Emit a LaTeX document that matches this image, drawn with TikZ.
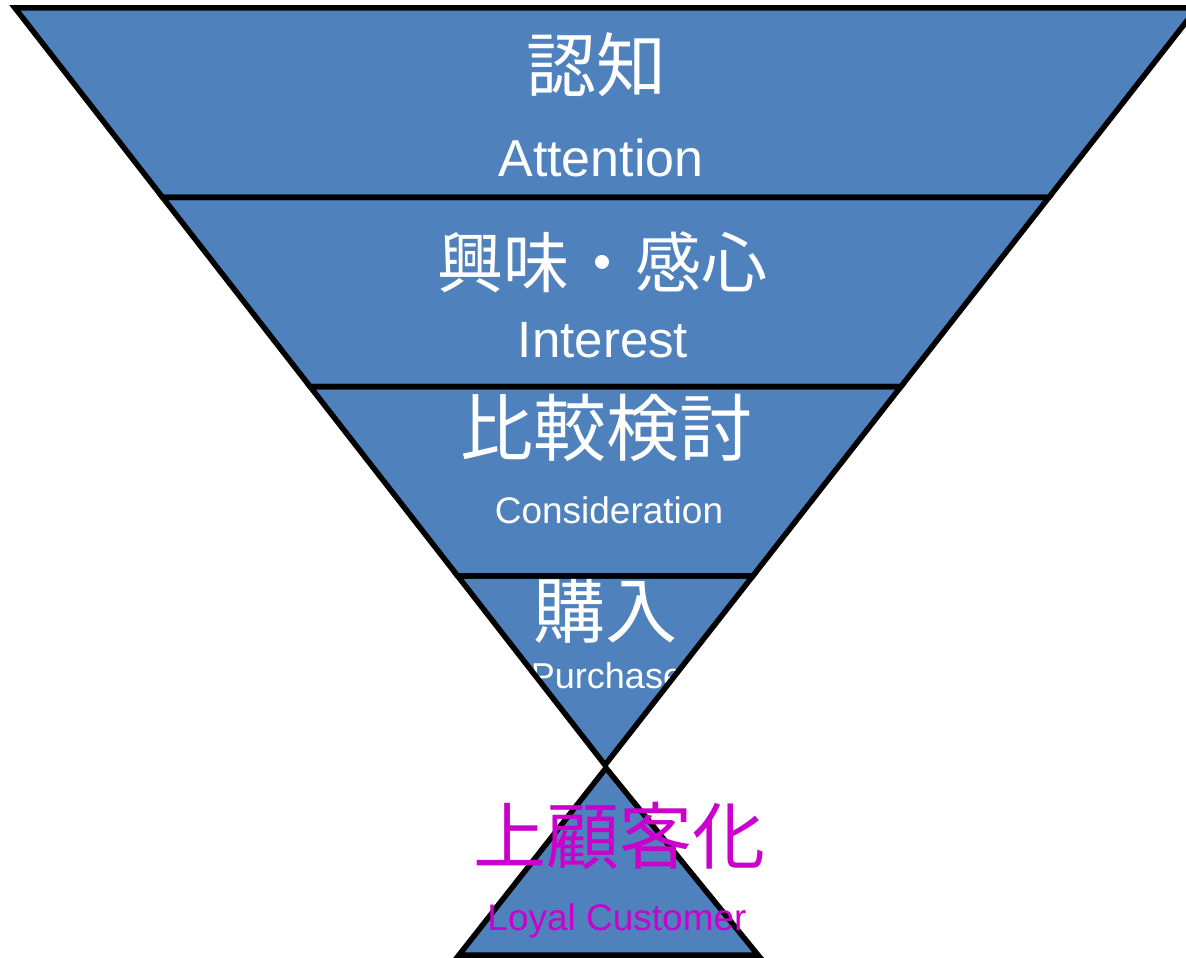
\documentclass[tikz,border=0pt]{standalone}
\usepackage{fontspec}
\setmainfont{Liberation Sans}
\newfontfamily\cjk{Noto Sans CJK JP}
\usetikzlibrary{calc}
\definecolor{fblue}{HTML}{4F81BD}
\definecolor{mag}{HTML}{CC00CC}
\begin{document}
\begin{tikzpicture}[x=1pt,y=-1pt,
  band/.style={fill=fblue},
  edge/.style={draw=black,line width=5.5pt,line join=miter},
  jw/.style={text=white,inner sep=0pt,anchor=center},
  ew/.style={text=white,inner sep=0pt,anchor=base},
  jm/.style={text=mag,inner sep=0pt,anchor=center},
  em/.style={text=mag,inner sep=0pt,anchor=base}]
\useasboundingbox (0,0) rectangle (1186,958);
\clip (0,0) rectangle (1186,958);
\coordinate (L0) at (15,8);
\coordinate (R0) at (1197,8);
\coordinate (A) at (605,765);
\coordinate (L1) at ($(L0)!0.25!(A)$);
\coordinate (R1) at ($(R0)!0.25!(A)$);
\coordinate (L2) at ($(L0)!0.5!(A)$);
\coordinate (R2) at ($(R0)!0.5!(A)$);
\coordinate (L3) at ($(L0)!0.75!(A)$);
\coordinate (R3) at ($(R0)!0.75!(A)$);
\coordinate (B0) at (606,768);
\coordinate (BL) at (459,955);
\coordinate (BR) at (758,955);
% fills
\fill[band] (L0) -- (R0) -- (R1) -- (L1) -- cycle;
\fill[band] (L1) -- (R1) -- (R2) -- (L2) -- cycle;
\fill[band] (L2) -- (R2) -- (R3) -- (L3) -- cycle;
\fill[band] (L3) -- (R3) -- (A) -- cycle;
% white texts
\node[jw,font=\cjk\fontsize{70}{70}\selectfont] (t1) at (596,65) {認知};
\node[ew,font=\fontsize{52}{52}\selectfont] (e1) at (601,176) {Attention};
\node[jw,font=\cjk\fontsize{66}{66}\selectfont] (t2) at (602,262) {興味・感心};
\node[ew,font=\fontsize{51}{51}\selectfont] (e2) at (603,357) {Interest};
\node[jw,font=\cjk\fontsize{73}{73}\selectfont] (t3) at (606,428) {比較検討};
\node[ew,font=\fontsize{37}{37}\selectfont] (e3) at (609,523) {Consideration};
\node[jw,font=\cjk\fontsize{72}{72}\selectfont] (t4) at (605,610) {購入};
\node[ew,font=\fontsize{36}{36}\selectfont] (e4) at (607,688) {Purchase};
% outlines
\draw[edge] (L0) -- (R0) -- (R1) -- (L1) -- cycle;
\draw[edge] (L1) -- (R1) -- (R2) -- (L2) -- cycle;
\draw[edge] (L2) -- (R2) -- (R3) -- (L3) -- cycle;
\draw[edge] (L3) -- (R3) -- (A) -- cycle;
% bottom triangle
\filldraw[band,edge] (B0) -- (BR) -- (BL) -- cycle;
\node[jm,font=\cjk\fontsize{73}{73}\selectfont] (t5) at (619,836) {上顧客化};
\node[em,font=\fontsize{37}{37}\selectfont] (e5) at (617,930) {Loyal Customer};
\end{tikzpicture}
\end{document}
